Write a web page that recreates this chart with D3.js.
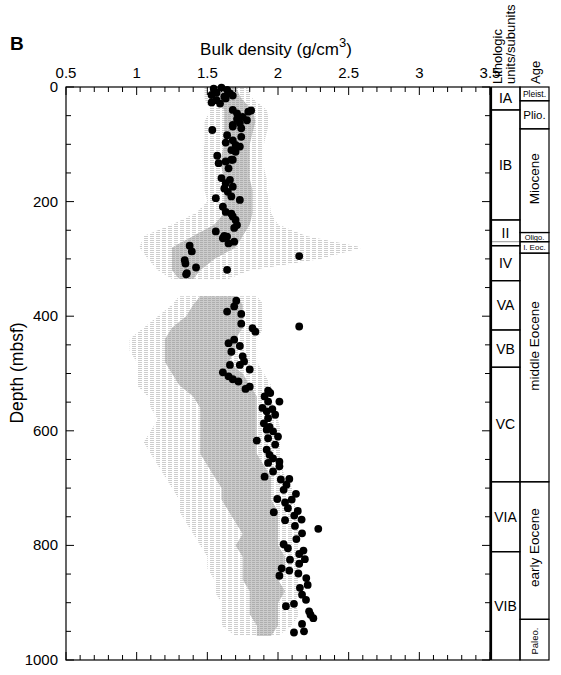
<!DOCTYPE html>
<html>
<head>
<meta charset="utf-8">
<script src="https://cdn.jsdelivr.net/npm/d3@7"></script>
<style>
body { margin: 0; background: #fff; }
svg text { font-family: "Liberation Sans", Arial, sans-serif; fill: #000; }
</style>
</head>
<body>
<svg id="chart" width="561" height="675"></svg>
<script>
// discrete bulk density samples (MAD): [density, depth]
const madPoints = [
  [1.545,3],[1.60,1],[1.53,14],[1.565,10],[1.64,5],[1.66,11],[1.62,17],[1.565,23],[1.53,27],[1.59,29],[1.63,20],[1.68,15],
  [1.68,40],[1.71,46],[1.79,43],[1.81,41],[1.75,52],[1.78,58],[1.71,56],[1.68,66],
  [1.535,75],[1.73,63],[1.74,72],[1.68,69],[1.74,87],[1.64,84],[1.68,93],[1.63,97],[1.70,101],[1.73,104],[1.67,110],[1.70,113],
  [1.68,127],[1.57,120],[1.58,133],[1.63,130],[1.67,127],[1.65,142],[1.60,159],[1.63,168],[1.62,177],[1.66,162],[1.68,174],[1.645,183],
  [1.67,191],[1.56,194],[1.73,197],[1.61,209],[1.63,218],[1.67,221],[1.68,226],[1.70,232],[1.71,241],[1.69,246],
  [1.56,252],[1.62,260],[1.61,264],[1.64,261],[1.65,273],[1.69,270],
  [1.375,277],[1.39,287],[2.15,295],[1.34,302],[1.345,308],[1.42,315],[1.64,319],[1.35,327],[1.355,325],
  [1.705,373],[1.69,383],[1.64,392],[1.74,396],[1.74,413],[1.82,421],[2.15,418],
  [1.84,427],[1.65,447],[1.69,441],[1.73,452],[1.67,462],[1.75,470],[1.76,479],[1.73,485],[1.66,485],[1.80,493],
  [1.61,498],[1.65,505],[1.68,510],[1.72,514],[1.77,527],[1.80,523],
  [1.93,530],[1.945,534],[1.905,540],[2.01,549],[1.93,549],[1.89,560],[1.96,562],[1.92,566],[1.98,572],[1.93,578],
  [1.90,587],[1.94,593],[1.92,598],[1.965,601],[1.85,617],[1.93,613],[2.00,610],[1.98,624],[1.92,633],[1.94,642],
  [1.965,648],[2.01,654],[1.93,656],[2.01,662],[1.965,671],[1.905,680],
  [2.02,685],[2.08,684],[2.06,694],[2.04,703],[2.127,710],[1.995,719],[2.05,725],[2.097,720],[2.07,735],[2.14,740],
  [1.97,742],[2.05,756],[2.115,748],[2.167,755],[2.12,766],[2.285,771],[2.17,779],[2.13,789],[2.04,798],[2.07,805],
  [2.18,809],[2.15,815],[2.19,824],[2.085,825],[2.15,832],[2.026,840],[2.08,844],[2.01,853],[2.144,849],[2.20,857],
  [2.21,869],[2.155,874],[2.17,886],[2.198,895],[2.056,906],[2.113,902],[2.22,915],[2.25,927],[2.23,921],[2.17,937],
  [2.113,952],[2.184,950]
];

// continuous GRA density cloud, read as bands per depth row (null = no data)
const graDepth   = [0,20,40,60,80,100,120,140,160,180,200,220,240,260,280,300,320,335,336,365,380,400,420,440,460,480,500,520,540,560,580,600,620,640,660,680,700,720,740,760,780,800,820,840,860,880,900,920,940,958];
const graOuterLo = [1.48,1.48,1.52,1.48,1.48,1.48,1.46,1.48,1.48,1.48,1.50,1.42,1.25,1.05,1.02,1.08,1.15,1.25,null,1.30,1.25,1.15,1.05,0.95,0.95,1.00,1.00,1.00,1.08,1.10,1.15,1.10,1.05,1.10,1.15,1.20,1.25,1.30,1.30,1.35,1.40,1.45,1.50,1.50,1.55,1.55,1.60,1.60,1.60,1.70];
const graOuterHi = [1.78,1.82,1.92,1.94,1.92,1.90,1.90,1.90,1.92,1.92,1.94,1.95,2.00,2.20,2.60,2.30,1.80,1.65,null,1.85,1.90,1.90,1.90,1.85,1.85,1.85,1.90,1.95,1.95,1.97,2.00,2.02,2.02,2.02,2.02,2.05,2.10,2.12,2.12,2.15,2.15,2.15,2.15,2.15,2.15,2.15,2.12,2.15,2.10,2.00];
const graInnerLo = [1.52,1.54,1.62,1.62,1.62,1.62,1.60,1.60,1.62,1.62,1.62,1.62,1.55,1.40,1.25,1.25,1.25,1.30,null,1.45,1.40,1.35,1.25,1.20,1.20,1.20,1.25,1.30,1.40,1.45,1.45,1.45,1.45,1.45,1.50,1.55,1.60,1.60,1.65,1.70,1.75,1.70,1.75,1.75,1.75,1.80,1.80,1.80,1.85,1.85];
const graInnerHi = [1.70,1.74,1.82,1.84,1.82,1.80,1.80,1.80,1.80,1.82,1.82,1.82,1.80,1.75,1.70,1.55,1.45,1.40,null,1.70,1.75,1.75,1.75,1.70,1.70,1.65,1.75,1.80,1.85,1.85,1.85,1.85,1.85,1.85,1.90,1.95,1.95,1.95,2.00,2.00,2.00,2.00,2.05,2.05,2.00,2.05,2.00,2.00,2.00,1.95];

// lithologic units: [label, top, bottom]
const lithUnits = [["IA",0,40],["IB",40,232],["II",232,277],["IV",277,338],["VA",338,424],["VB",424,489],["VC",489,689],["VIA",689,811],["VIB",811,1000]];
// ages: [label, top, bottom, font size, rotated, label centre depth]
const ageUnits = [["Pleist.",0,24,8.5,false,12],["Plio.",24,73,11.5,false,48],["Miocene",73,254,13.5,true,160],["Oligo.",254,270,7.5,false,262],["l. Eoc.",270,290,8,false,280],["middle Eocene",290,689,13.5,true,452],["early Eocene",689,929,13.5,true,804],["Paleo.",929,1000,9.5,true,967]];

const xTickLabels = [0.5,1,1.5,2,2.5,3,3.5];
const yTickLabels = [0,200,400,600,800,1000];

const svg = d3.select("#chart");
const x = d3.scaleLinear().domain([0.5,3.5]).range([66,490]);
const y = d3.scaleLinear().domain([0,1000]).range([87,660]);

// patterns to mimic the dashed GRA texture
const defs = svg.append("defs");
defs.append("pattern").attr("id","outerPat").attr("width",6).attr("height",2).attr("patternUnits","userSpaceOnUse")
  .append("rect").attr("width",4).attr("height",1).attr("fill","#cdcdcd");
defs.append("pattern").attr("id","innerPat").attr("width",4).attr("height",2).attr("patternUnits","userSpaceOnUse")
  .call(p => {
    p.append("rect").attr("width",4).attr("height",2).attr("fill","#cbcbcb");
    p.append("rect").attr("width",3).attr("height",1).attr("fill","#aeaeae");
  });

const graRows = graDepth.map((d,i) => ({d:d, ol:graOuterLo[i], oh:graOuterHi[i], il:graInnerLo[i], ih:graInnerHi[i]}));

const outerArea = d3.area().defined(r => r.ol !== null)
  .y(r => y(r.d)).x0(r => x(r.ol)).x1(r => x(r.oh));
const innerArea = d3.area().defined(r => r.il !== null)
  .y(r => y(r.d)).x0(r => x(r.il)).x1(r => x(r.ih));

svg.append("path").datum(graRows).attr("d", outerArea).attr("fill","url(#outerPat)");
svg.append("path").datum(graRows).attr("d", innerArea).attr("fill","url(#innerPat)");

// black MAD dots
svg.append("g").selectAll("circle").data(madPoints).enter().append("circle")
  .attr("cx", d => x(d[0])).attr("cy", d => y(d[1])).attr("r", 3.9).attr("fill","#000");

// frame
svg.append("rect").attr("x",66).attr("y",87).attr("width",424).attr("height",573)
  .attr("fill","none").attr("stroke","#000").attr("stroke-width",1.2);

// ticks
const xMinor = d3.range(0.5,3.51,0.1);
const tk = svg.append("g").attr("stroke","#000").attr("stroke-width",1);
xMinor.forEach(v => {
  const major = Math.abs(v*2 - Math.round(v*2)) < 1e-6;
  const len = major ? 8 : 5;
  tk.append("line").attr("x1",x(v)).attr("x2",x(v)).attr("y1",y(0)).attr("y2",y(0)+len);
  tk.append("line").attr("x1",x(v)).attr("x2",x(v)).attr("y1",y(1000)).attr("y2",y(1000)-len);
});
d3.range(0,1001,50).forEach(d => {
  const len = d % 200 === 0 ? 8 : 5;
  tk.append("line").attr("x1",x(0.5)).attr("x2",x(0.5)+len).attr("y1",y(d)).attr("y2",y(d));
  tk.append("line").attr("x1",x(3.5)).attr("x2",x(3.5)-len).attr("y1",y(d)).attr("y2",y(d));
});

// tick labels
svg.append("g").selectAll("text").data(xTickLabels).enter().append("text")
  .attr("x", d => x(d)).attr("y", 78).attr("text-anchor","middle").attr("font-size",15).text(d => d);
svg.append("g").selectAll("text").data(yTickLabels).enter().append("text")
  .attr("x", 58).attr("y", d => y(d)+5).attr("text-anchor","end").attr("font-size",15).text(d => d);

// axis titles
const xt = svg.append("text").attr("x",276).attr("y",55).attr("text-anchor","middle").attr("font-size",17);
xt.append("tspan").text("Bulk density (g/cm");
xt.append("tspan").attr("dy",-8).attr("font-size",13).text("3");
xt.append("tspan").attr("dy",8).text(")");
svg.append("text").attr("transform","translate(23,373) rotate(-90)").attr("text-anchor","middle")
  .attr("font-size",17.5).text("Depth (mbsf)");
svg.append("text").attr("x",10).attr("y",50).attr("font-size",19).attr("font-weight","bold").text("B");

// lithology column
const lithX0 = 491, lithX1 = 520, ageX1 = 549;
const lith = svg.append("g");
lith.selectAll("rect").data(lithUnits).enter().append("rect")
  .attr("x",lithX0).attr("width",lithX1-lithX0)
  .attr("y",d => y(d[1])).attr("height",d => y(d[2])-y(d[1]))
  .attr("fill","none").attr("stroke","#000").attr("stroke-width",1.2);
lith.append("line").attr("x1",lithX0).attr("x2",lithX1).attr("y1",y(270)).attr("y2",y(270))
  .attr("stroke","#999").attr("stroke-width",1);
lith.selectAll("text").data(lithUnits).enter().append("text")
  .attr("x",(lithX0+lithX1)/2).attr("y",d => (y(d[1])+y(d[2]))/2 + 5)
  .attr("text-anchor","middle").attr("font-size",14).text(d => d[0]);
svg.append("line").attr("x1",lithX0).attr("x2",lithX0).attr("y1",y(0)).attr("y2",y(1000))
  .attr("stroke","#000").attr("stroke-width",2.2);

// age column
const age = svg.append("g");
age.selectAll("rect").data(ageUnits).enter().append("rect")
  .attr("x",lithX1).attr("width",ageX1-lithX1)
  .attr("y",d => y(d[1])).attr("height",d => y(d[2])-y(d[1]))
  .attr("fill","none").attr("stroke","#000").attr("stroke-width",1.2);
age.selectAll("text").data(ageUnits).enter().append("text")
  .attr("text-anchor","middle").attr("font-size",d => d[3])
  .attr("transform", d => {
    const cx = (lithX1+ageX1)/2, cy = y(d[5]);
    return d[4] ? `translate(${cx+d[3]*0.36},${cy}) rotate(-90)` : `translate(${cx},${cy+d[3]*0.36})`;
  })
  .text(d => d[0]);

// column headers
svg.append("text").attr("transform","translate(502,84) rotate(-90)").attr("font-size",13).text("Lithologic");
svg.append("text").attr("transform","translate(515,84) rotate(-90)").attr("font-size",13).text("units/subunits");
svg.append("text").attr("transform","translate(540,84) rotate(-90)").attr("font-size",13).text("Age");
</script>
</body>
</html>
